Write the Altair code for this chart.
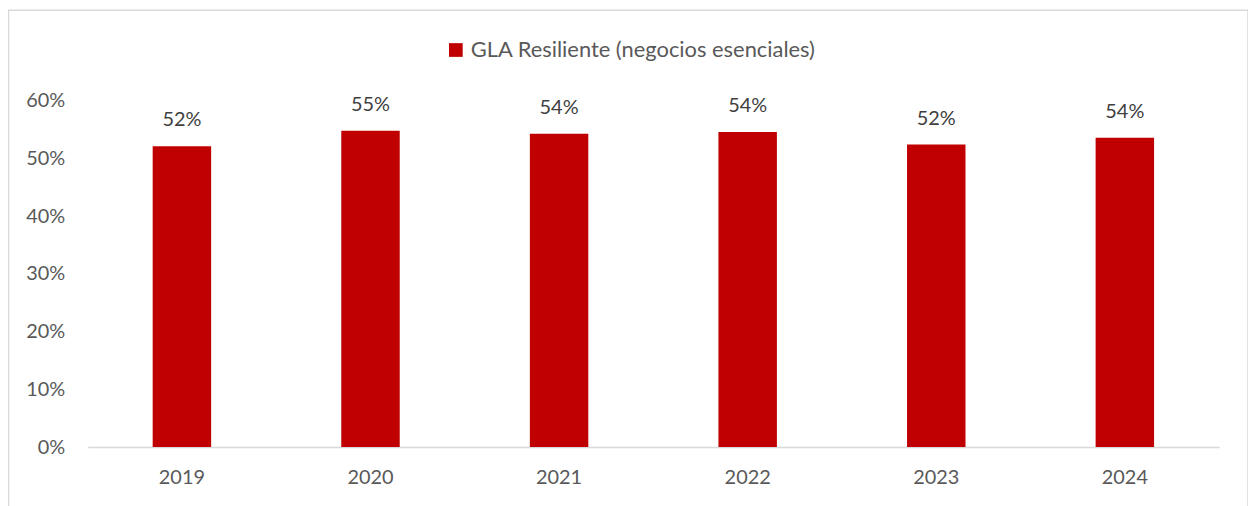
import altair as alt
import pandas as pd

years = ["2019", "2020", "2021", "2022", "2023", "2024"]
values = [0.521, 0.548, 0.543, 0.546, 0.524, 0.536]
labels = ["52%", "55%", "54%", "54%", "52%", "54%"]
series = "GLA Resiliente (negocios esenciales)"

df = pd.DataFrame({"year": years, "value": values, "label": labels, "series": [series] * len(years)})

W, H = 1137, 348
FONT = "Lato"
GREY = "#595959"

base = alt.Chart(df)

x_enc = alt.X("year:N", sort=years, title=None,
              scale=alt.Scale(paddingInner=0.69, paddingOuter=0.345),
              axis=alt.Axis(labelAngle=0, labelFontSize=20, labelColor=GREY, labelFont=FONT,
                            ticks=False, domainColor="#d9d9d9", domainWidth=1.5, labelPadding=21))

bars = base.mark_bar(color="#C00000").encode(
    x=x_enc,
    y=alt.Y("value:Q", title=None,
            scale=alt.Scale(domain=[0, 0.6], nice=False),
            axis=alt.Axis(values=[0, 0.1, 0.2, 0.3, 0.4, 0.5, 0.6], format=".0%",
                          labelFontSize=20, labelColor=GREY, labelFont=FONT,
                          domain=False, ticks=False, grid=False, labelPadding=23)),
    color=alt.Color("series:N", scale=alt.Scale(range=["#C00000"]),
                    legend=alt.Legend(title=None, orient="none", legendX=359, legendY=-62,
                                      symbolType="square", symbolSize=190, symbolStrokeWidth=0,
                                      labelFontSize=22, labelColor=GREY, labelFont=FONT,
                                      labelOffset=4, labelLimit=0)),
)

text = base.mark_text(fontSize=20, color="#404040", font=FONT, baseline="middle", dy=-26).encode(
    x=alt.X("year:N", sort=years),
    y=alt.Y("value:Q"),
    text="label:N",
)

border_df = pd.DataFrame({"a": [0]})
border = alt.Chart(border_df).mark_rect(fill=None, stroke="#d9d9d9", strokeWidth=1.5).encode(
    x=alt.value(-79.5), x2=alt.value(1166), y=alt.value(-91), y2=alt.value(430)
)

chart = alt.layer(border, bars, text).properties(
    width=W, height=H,
    autosize=alt.AutoSizeParams(type="none"),
    padding={"left": 80, "top": 92, "right": 29, "bottom": 58},
    background="white",
).configure_view(strokeWidth=0, stroke=None)

chart.save("out.html", embed_options={"renderer": "svg", "actions": False})
